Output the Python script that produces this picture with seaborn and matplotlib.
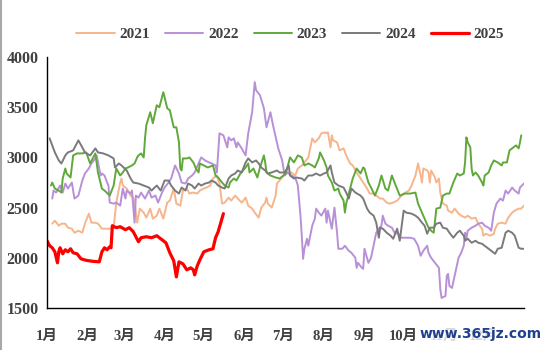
import matplotlib
matplotlib.use("Agg")
import matplotlib.pyplot as plt
import seaborn as sns
import pandas as pd
from matplotlib.lines import Line2D

# (day of year, price)
s2021 = [(4,2340),(6,2370),(9,2320),(11,2340),(14,2340),(16,2300),(19,2290),(21,2250),(24,2270),(27,2250),(29,2340),(32,2440),(34,2350),(37,2350),(39,2340),(42,2290),(44,2290),(48,2290),(51,2300),(53,2550),(56,2750),(57,2790),(58,2720),(61,2690),(64,2620),(66,2600),(67,2550),(69,2350),(71,2490),(74,2450),(76,2400),(79,2490),(81,2390),(84,2420),(86,2490),(89,2390),
         (92,2550),(94,2570),(97,2690),(99,2540),(102,2520),(104,2670),(107,2690),(109,2640),(112,2650),(115,2640),(117,2670),(120,2690),(122,2700),(125,2720),(127,2790),(130,2820),(132,2740),(134,2540),(136,2550),(139,2600),(141,2570),(144,2620),(146,2590),(149,2550),(152,2600),(154,2520),(157,2490),(159,2450),(162,2400),(164,2500),(167,2550),(168,2600),(169,2540),(172,2500),(175,2620),(176,2740),(178,2770),(181,2820),(183,2840),
         (187,2850),(190,2820),(192,2890),(195,2920),(197,2950),(200,3000),(203,3190),(205,3150),(208,3190),(210,3240),(213,3250),(214,3240),(215,3250),(217,3100),(218,3220),(219,3170),(222,3150),(224,3070),(227,3090),(229,3020),(232,2940),(234,2920),(237,2850),(240,2790),(242,2750),(245,2690),(247,2640),(250,2640),(252,2620),(255,2590),(257,2590),(260,2550),(262,2540),(265,2550),(268,2570),(270,2600),(273,2640),
         (277,2670),(279,2720),(282,2820),(284,2940),(286,2820),(287,2750),(288,2890),(291,2870),(292,2850),(293,2750),(294,2870),(297,2800),(298,2750),(300,2790),(301,2650),(303,2540),(306,2520),(307,2470),(310,2450),(312,2490),(315,2440),(317,2420),(320,2400),(322,2420),(325,2390),(328,2400),(330,2340),(333,2290),(334,2220),(336,2240),(339,2220),(342,2240),(343,2290),(345,2340),(348,2350),(351,2340),(353,2400),(356,2450),(358,2470),(361,2490),(363,2490),(365,2520)]

s2022 = [(4,2590),(5,2670),(7,2650),(10,2720),(12,2650),(14,2740),(16,2690),(19,2750),(21,2590),(24,2620),(27,2770),(29,2840),(32,2890),(34,2940),(37,2990),(38,3020),(41,2820),(42,2840),(44,2820),(46,2750),(47,2720),(48,2550),(51,2540),(53,2550),(56,2520),(58,2690),(60,2590),(61,2670),(64,2640),(65,2670),(67,2350),(68,2620),(70,2600),(72,2650),(75,2590),(78,2670),(80,2600),(83,2620),(85,2550),(88,2650),(90,2700),
         (93,2750),(95,2790),(98,2920),(101,2840),(103,2750),(106,2740),(108,2790),(111,2820),(113,2850),(116,2940),(118,3000),(121,2970),(124,2950),(126,2940),(129,2920),(130,2850),(131,3050),(132,3240),(135,3220),(138,3100),(139,3200),(141,3170),(143,3190),(145,3100),(146,3150),(149,3090),(152,3020),(154,3240),(157,3450),(159,3750),(160,3670),(163,3620),(166,3490),(168,3300),(171,3450),(173,3320),(176,3150),(177,3090),(180,2970),(181,2890),(182,2820),(184,2850),
         (187,2820),(190,2800),(192,2720),(194,2420),(195,2220),(196,1990),(197,2090),(199,2190),(200,2120),(201,2190),(203,2320),(205,2390),(206,2490),(208,2450),(210,2420),(213,2490),(214,2350),(215,2470),(218,2290),(220,2500),(222,2250),(223,2090),(226,2090),(228,2120),(231,2070),(233,2050),(236,2000),(237,1900),(238,1950),(241,1900),(242,1890),(243,2090),(246,1950),(248,2000),(251,2190),(252,2250),(254,2290),(256,2320),(257,2420),(259,2340),(261,2320),(264,2300),(266,2250),(269,2240),(271,2200),(274,2200),
         (278,2200),(281,2190),(284,2120),(286,2020),(288,2070),(291,2120),(292,2050),(294,2000),(297,1950),(300,1900),(301,1690),(302,1600),(305,1620),(306,1820),(307,1840),(308,1720),(310,1700),(312,1820),(314,1940),(315,2000),(317,2050),(319,2120),(320,2250),(321,2190),(322,2270),(325,2300),(328,2320),(330,2340),(333,2350),(335,2320),(338,2300),(340,2270),(342,2450),(344,2540),(347,2590),(349,2570),(351,2670),(353,2640),(356,2700),(358,2670),(361,2640),(362,2700),(365,2740)]

s2023 = [(3,2720),(4,2750),(6,2690),(9,2670),(11,2650),(12,2790),(14,2890),(15,2840),(18,2800),(20,3020),(23,3040),(27,3040),(30,3050),(33,2940),(35,2990),(37,3040),(39,2850),(42,2690),(44,2670),(48,2620),(51,2720),(53,2890),(56,2820),(58,2850),(60,2890),(62,2900),(65,2920),(67,2940),(69,3000),(70,3020),(72,3040),(74,3000),(75,3190),(76,3320),(79,3450),(81,3340),(84,3520),(86,3500),(89,3650),
         (90,3600),(92,3490),(94,3470),(97,3300),(99,3300),(101,3150),(102,2890),(103,2870),(104,2990),(107,2990),(109,3000),(112,2950),(114,2890),(116,2850),(117,2940),(120,2920),(123,2900),(127,2920),(129,2820),(131,2800),(134,2750),(136,2720),(139,2700),(140,2750),(143,2790),(145,2770),(148,2840),(150,2870),(152,2900),(154,2940),(155,2850),(158,2890),(161,2800),(163,2900),(166,3020),(167,2950),(168,2850),(171,2820),(175,2800),(178,2790),(181,2820),(183,2850),
         (186,3000),(189,2950),(192,3020),(195,3000),(197,2920),(200,2940),(203,2920),(205,2900),(208,2990),(209,3050),(212,2970),(214,2900),(215,2820),(218,2750),(220,2670),(223,2690),(224,2640),(227,2570),(228,2450),(229,2540),(232,2690),(234,2790),(237,2890),(240,2840),(242,2900),(243,2890),(246,2750),(248,2700),(251,2620),(254,2720),(256,2820),(259,2690),(261,2670),(264,2820),(266,2750),(270,2620),(274,2640),
         (278,2640),(282,2650),(284,2540),(287,2450),(289,2390),(292,2300),(294,2270),(296,2250),(298,2490),(301,2500),(303,2620),(306,2640),(308,2640),(311,2750),(314,2840),(316,2820),(319,2840),(320,2950),(321,3200),(322,3150),(324,3100),(325,2890),(326,2820),(328,2850),(330,2820),(333,2750),(334,2720),(335,2820),(338,2850),(340,2920),(342,2970),(345,2950),(348,2920),(349,2950),(352,2950),(354,3070),(357,3100),(359,3120),(361,3090),(362,3150),(363,3220)]

s2024 = [(2,3190),(4,3120),(6,3050),(9,2970),(11,2940),(14,3020),(16,3050),(20,3070),(24,3170),(27,3100),(29,3050),(33,3020),(37,3090),(39,3050),(43,3040),(47,3020),(51,2990),(52,2900),(55,2940),(57,2920),(61,2870),(64,2790),(66,2750),(70,2740),(74,2720),(78,2700),(80,2670),(84,2720),(87,2670),(90,2770),
         (93,2770),(95,2720),(98,2670),(101,2640),(103,2700),(106,2670),(108,2740),(111,2720),(113,2690),(116,2740),(118,2720),(121,2740),(124,2750),(126,2770),(129,2750),(131,2720),(134,2700),(136,2690),(139,2790),(141,2820),(144,2840),(146,2870),(149,2850),(152,2950),(154,2990),(157,2950),(160,2970),(162,2940),(164,2900),(167,2870),(169,2840),(172,2850),(176,2870),(178,2850),(182,2850),
         (185,2920),(186,2820),(189,2790),(191,2800),(195,2790),(197,2770),(200,2820),(203,2820),(206,2840),(209,2820),(212,2840),(214,2850),(217,2920),(218,2850),(220,2750),(223,2720),(227,2700),(229,2650),(231,2590),(233,2690),(236,2650),(240,2620),(242,2590),(245,2490),(247,2450),(250,2420),(252,2350),(254,2200),(255,2300),(257,2290),(260,2250),(263,2220),(265,2190),(268,2290),(270,2170),(273,2470),(275,2450),
         (279,2440),(282,2420),(284,2400),(287,2350),(289,2320),(291,2240),(293,2300),(296,2300),(298,2340),(301,2350),(303,2300),(306,2290),(308,2250),(311,2200),(314,2250),(316,2270),(319,2220),(320,2170),(322,2190),(325,2150),(328,2170),(330,2150),(333,2140),(335,2120),(338,2090),(340,2070),(343,2040),(345,2090),(348,2100),(351,2250),(353,2270),(356,2250),(358,2220),(361,2100),(363,2090),(365,2090)]

s2025 = [(0,2170),(2,2120),(4,2100),(6,2060),(8,1950),(9,2060),(10,2100),(12,2040),(14,2080),(16,2060),(18,2090),(20,2050),(23,2040),(26,1990),(30,1975),(35,1965),(40,1960),(42,2060),(44,2100),(46,2080),(48,2110),(49,2100),(50,2320),(53,2300),(56,2310),(60,2280),(63,2300),(66,2260),(70,2160),(72,2200),(76,2210),(80,2200),(84,2220),(88,2180),(91,2150),(94,2050),(97,1970),(99,1810),(101,1960),(104,1940),(107,1880),(110,1900),(112,1880),(113,1830),(115,1920),(117,1980),(120,2060),(124,2080),(127,2090),(129,2200),(131,2260),(133,2350),(135,2440)]

years = ["2021", "2022", "2023", "2024", "2025"]
colors = ["#F6B58C", "#B890D8", "#5FA83A", "#7A7A7A", "#FF0000"]
widths = [1.4, 1.4, 1.4, 1.4, 2.3]
month_starts = [0, 31, 59, 90, 120, 151, 181, 212, 243, 273, 304, 334, 365]
month_labels = ["1月", "2月", "3月", "4月", "5月", "6月", "7月", "8月", "9月", "10月", "11月", "12月", ""]

series = [s2021, s2022, s2023, s2024, s2025]

sns.set_style("white")
plt.rcParams["font.family"] = ["Liberation Serif", "Noto Sans CJK SC", "DejaVu Sans"]
plt.rcParams["font.weight"] = "bold"

fig = plt.figure(figsize=(5.5, 3.5), dpi=100)
ax = fig.add_axes([0.0855, 0.12, 0.867, 0.717])

for yr, s, c, lw in zip(years, series, colors, widths):
    df = pd.DataFrame(s, columns=["day", "price"])
    sns.lineplot(data=df, x="day", y="price", ax=ax, color=c, linewidth=lw,
                 label=yr, estimator=None, sort=False)

ax.set_xlim(0, 365)
ax.set_ylim(1500, 4000)
ax.set_yticks(range(1500, 4001, 500))
ax.set_xticks(month_starts)
ax.set_xticklabels(month_labels)
ax.set_xlabel("")
ax.set_ylabel("")
for side in ["top", "right"]:
    ax.spines[side].set_visible(False)
for side in ["left", "bottom"]:
    ax.spines[side].set_color("black")
    ax.spines[side].set_linewidth(1.0)
ax.tick_params(axis="y", direction="out", length=4, width=1, colors="black",
               labelcolor="#404040", labelsize=11.5, pad=2)
ax.tick_params(axis="x", direction="in", length=4, width=1, colors="black",
               labelcolor="#404040", labelsize=10.5, pad=16)
for t in ax.get_xticklabels() + ax.get_yticklabels():
    t.set_fontweight("bold")

leg = ax.legend(loc="center", bbox_to_anchor=(0.51, 1.09), ncol=5, frameon=False,
                handlelength=2.5, columnspacing=1.0, handletextpad=0.3,
                prop={"weight": "bold", "size": 11})
for t in leg.get_texts():
    t.set_color("#404040")

# site watermark sitting over the last month labels, as in the source image
fig.text(0.985, 0.045, "www.365jz.com", ha="right", va="center", color="#1F3F8F",
         fontsize=10, family="DejaVu Sans",
         bbox=dict(facecolor="white", edgecolor="none", alpha=0.8, pad=0.5))
fig.add_artist(Line2D([0.002, 0.002], [0, 1], transform=fig.transFigure,
                      color="#A8A8A8", linewidth=1.5))

fig.savefig("out.png", dpi=100)
